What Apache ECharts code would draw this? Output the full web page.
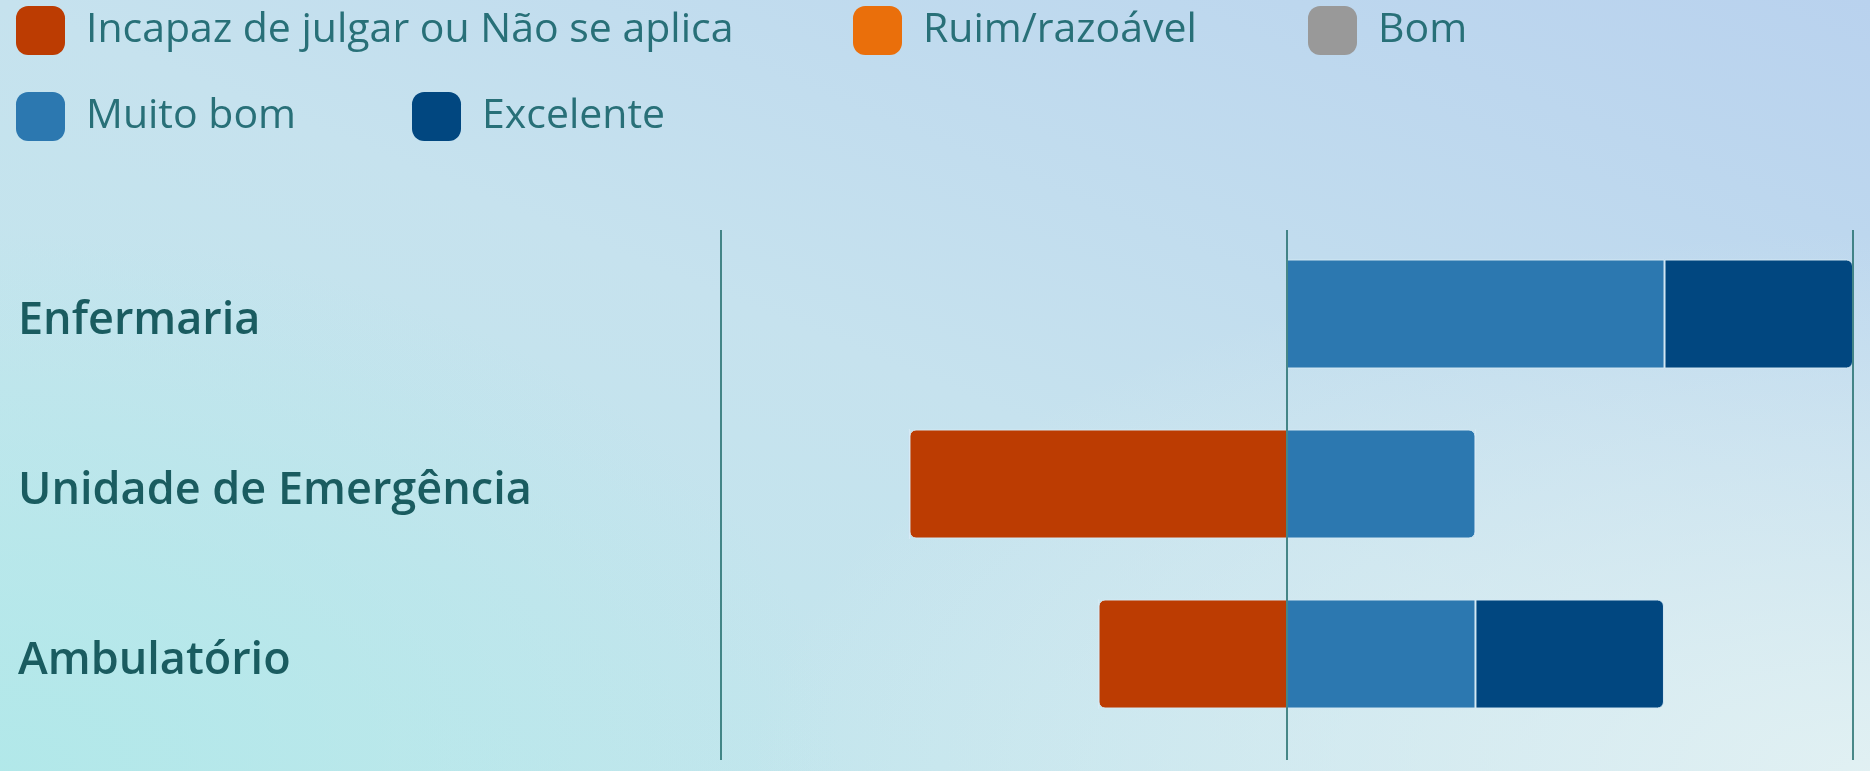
<!DOCTYPE html>
<html>
<head>
<meta charset="utf-8">
<script src="https://cdn.jsdelivr.net/npm/echarts@6/dist/echarts.min.js"></script>
<style>
html, body { margin: 0; padding: 0; width: 1870px; height: 771px; overflow: hidden; }
body {
    background:
        radial-gradient(ellipse 60% 70% at 100% 100%, rgba(226,241,243,0.95) 0%, rgba(226,241,243,0) 100%),
        radial-gradient(ellipse 45% 70% at 0% 100%, rgba(176,232,233,0.9) 0%, rgba(176,232,233,0) 100%),
        linear-gradient(to bottom left, #b9d2ee 0%, #c6e2ee 50%, #c0e8ec 100%);
}
#chart { width: 1870px; height: 771px; }
</style>
</head>
<body>
<div id="chart"></div>
<script>
// categories top to bottom
const categories = ['Enfermaria', 'Unidade de Emergência', 'Ambulatório']
const seriesNames = ['Incapaz de julgar ou Não se aplica', 'Ruim/razoável', 'Bom', 'Muito bom', 'Excelente']
const seriesColors = ['#bc3c02', '#ea6f0b', '#999999', '#2c78b0', '#014780']

// percentages, left side negative
const incapaz = [0, -66.7, -33.3]
const ruim = [0, 0, 0]
const bom = [0, 0, 0]
const muitoBom = [66.7, 33.3, 33.3]
const excelente = [33.3, 0, 33.3]

const axisTicks = [-100, 0, 100]

const allValues = [incapaz, ruim, bom, muitoBom, excelente]
const radius = 6

// legend items sit in two rows, positioned one by one
const legendLefts = [16, 853, 1308, 16, 412]
const legendTops = [6, 6, 6, 92, 92]

// round only the outer end of each side of the diverging bar
function outerIndex(catIdx, sign) {
    let found = -1
    for (let s = 0; s < allValues.length; ++s) {
        let v = allValues[s][catIdx]
        if (sign > 0 ? v > 0 : v < 0) {
            found = s
        }
    }
    return found
}

const series = allValues.map((values, sIdx) => ({
    name: seriesNames[sIdx],
    type: 'bar',
    stack: 'total',
    xAxisIndex: 0,
    yAxisIndex: 0,
    barWidth: 109,
    itemStyle: {
        color: seriesColors[sIdx],
        borderColor: 'rgba(214,234,244,0.95)',
        borderWidth: 1,
    },
    emphasis: { disabled: true },
    data: values.map((v, cIdx) => {
        let r = 0
        if (v > 0 && outerIndex(cIdx, 1) === sIdx) {
            r = [0, radius, radius, 0]
        } else if (v < 0 && outerIndex(cIdx, -1) === sIdx) {
            r = [radius, 0, 0, radius]
        }
        return { value: v, itemStyle: { borderRadius: r } }
    })
}))

const legends = seriesNames.map((name, i) => ({
    data: [name],
    left: legendLefts[i],
    top: legendTops[i],
    padding: 0,
    icon: 'roundRect',
    itemWidth: 49,
    itemHeight: 49,
    selectedMode: false,
    itemStyle: { borderWidth: 0 },
    textStyle: {
        color: '#287078',
        fontSize: 41,
        fontFamily: 'Open Sans',
        padding: [0, 0, 0, 16],
    },
}))

const chart = echarts.init(document.getElementById('chart'), null, { renderer: 'canvas' })

chart.setOption({
    animation: false,
    legend: legends,
    grid: [
        { left: 721, right: 17, top: 229, bottom: 32 },
        { left: 721, right: 17, top: 230, bottom: 11 },
    ],
    xAxis: [
        {
            type: 'value',
            gridIndex: 0,
            min: axisTicks[0],
            max: axisTicks[axisTicks.length - 1],
            show: false,
        },
        {
            type: 'value',
            gridIndex: 1,
            min: axisTicks[0],
            max: axisTicks[axisTicks.length - 1],
            interval: 100,
            z: 10,
            axisLine: { show: false },
            axisTick: { show: false },
            axisLabel: { show: false },
            splitLine: { show: true, lineStyle: { color: '#176665', width: 1.5 } },
        }
    ],
    yAxis: [
        {
            type: 'category',
            gridIndex: 0,
            data: categories,
            inverse: true,
            axisLine: { show: false },
            axisTick: { show: false },
            splitLine: { show: false },
            axisLabel: {
                align: 'left',
                verticalAlign: 'top',
                lineHeight: 14,
                margin: 703,
                color: '#1a5c60',
                fontSize: 45,
                fontWeight: 600,
                fontFamily: 'Open Sans',
            },
        },
        {
            type: 'value',
            gridIndex: 1,
            min: 0,
            max: 1,
            show: false,
        }
    ],
    series: series,
})
</script>
</body>
</html>
